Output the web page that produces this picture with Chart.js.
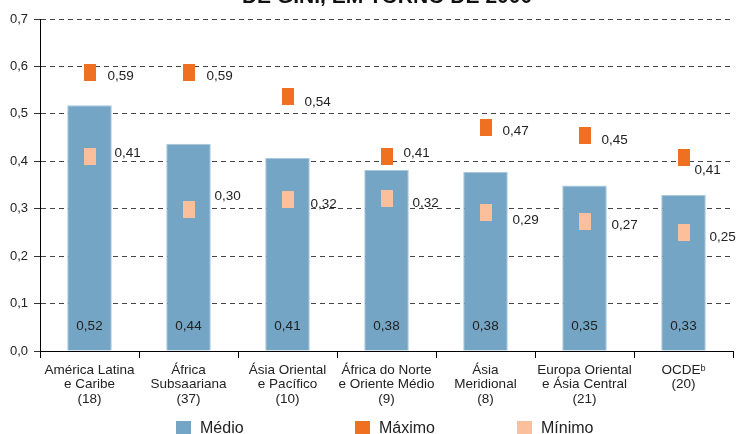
<!DOCTYPE html>
<html>
<head>
<meta charset="utf-8">
<script src="https://cdn.jsdelivr.net/npm/chart.js@4/dist/chart.umd.min.js"></script>
<style>
  html, body { margin: 0; padding: 0; background: #fff; overflow: hidden; width: 738px; height: 434px; }
  #wrap { position: absolute; left: 0; top: 0; width: 738px; height: 434px; }
</style>
</head>
<body>
<div id="wrap"><canvas id="c" width="738" height="434"></canvas></div>
<script>
// ---- data ----
const categories = [
  ["América Latina", "e Caribe", "(18)"],
  ["África", "Subsaariana", "(37)"],
  ["Ásia Oriental", "e Pacífico", "(10)"],
  ["África do Norte", "e Oriente Médio", "(9)"],
  ["Ásia", "Meridional", "(8)"],
  ["Europa Oriental", "e Ásia Central", "(21)"],
  ["OCDEᵇ", "(20)"]
];
const medio  = [0.518, 0.437, 0.407, 0.382, 0.378, 0.349, 0.329];
const maximo = [0.587, 0.587, 0.536, 0.410, 0.472, 0.454, 0.409];
const minimo = [0.411, 0.298, 0.320, 0.322, 0.293, 0.272, 0.249];
const yTicks = [0, 0.1, 0.2, 0.3, 0.4, 0.5, 0.6, 0.7];
const seriesNames = ["Médio", "Máximo", "Mínimo"];
const titleText = "DE GINI, EM TORNO DE 2000";

// ---- styles / layout ----
const FONT = "'Liberation Sans', Arial, sans-serif";
const TXT = "#222";
const C_MED = "#74a5c4", C_MAX = "#f07022", C_MIN = "#fbbf9c";
// label nudges (pixels, relative to marker centre)
const maxDx = [18, 18, 17, 17, 17, 17, 11];
const maxDy = [4, 4, 5, -3, 4, 5, 13];
const minDx = [25, 26, 23, 26, 27, 27, 26];
const minDy = [-3, -13, 5, 5, 8, 3, 4];
const legendBoxX = [176, 355, 517];
const fmt = (v, d) => v.toFixed(d).replace(".", ",");

function markerImg(color) {
  const cv = document.createElement("canvas");
  cv.width = 12; cv.height = 17;
  const g = cv.getContext("2d");
  g.fillStyle = color; g.fillRect(0, 0, 12, 17);
  return cv;
}

const titlePlugin = {
  id: "cutTitle",
  afterDraw(chart) {
    const ctx = chart.ctx;
    ctx.save();
    ctx.font = "bold 21px " + FONT;
    ctx.fillStyle = "#111";
    ctx.textAlign = "center";
    ctx.textBaseline = "alphabetic";
    ctx.fillText(titleText, 387, 3);
    ctx.restore();
  }
};

const legendPlugin = {
  id: "fixedLegend",
  afterDraw(chart) {
    const ctx = chart.ctx;
    ctx.save();
    ctx.font = "16px " + FONT;
    ctx.textAlign = "left";
    ctx.textBaseline = "middle";
    chart.data.datasets.forEach((ds, i) => {
      const x = legendBoxX[i];
      ctx.fillStyle = ds.backgroundColor;
      ctx.fillRect(x, 421, 15, 15);
      ctx.fillStyle = TXT;
      ctx.fillText(ds.label, x + 24, 429);
    });
    ctx.restore();
  }
};

const labelPlugin = {
  id: "valueLabels",
  afterDatasetsDraw(chart) {
    const ctx = chart.ctx;
    ctx.save();
    ctx.font = "13.5px " + FONT;
    ctx.fillStyle = TXT;
    ctx.textBaseline = "middle";
    const bottom = chart.chartArea.bottom;
    chart.getDatasetMeta(0).data.forEach((el, i) => {
      ctx.textAlign = "center";
      ctx.fillText(fmt(medio[i], 2), el.x, bottom - 25);
    });
    chart.getDatasetMeta(1).data.forEach((el, i) => {
      ctx.textAlign = "left";
      ctx.fillText(fmt(maximo[i], 2), el.x + maxDx[i], el.y + maxDy[i]);
    });
    chart.getDatasetMeta(2).data.forEach((el, i) => {
      ctx.textAlign = "left";
      ctx.fillText(fmt(minimo[i], 2), el.x + minDx[i], el.y + minDy[i]);
    });
    ctx.restore();
  }
};

new Chart(document.getElementById("c"), {
  data: {
    labels: categories,
    datasets: [
      { type: "bar", label: seriesNames[0], data: medio, backgroundColor: C_MED,
        borderColor: "#a9c8dc", borderWidth: 1, barPercentage: 0.45, categoryPercentage: 1, order: 1 },
      { type: "line", label: seriesNames[1], data: maximo, showLine: false, backgroundColor: C_MAX,
        borderColor: C_MAX, borderWidth: 0, pointStyle: markerImg(C_MAX), order: 0 },
      { type: "line", label: seriesNames[2], data: minimo, showLine: false, backgroundColor: C_MIN,
        borderColor: C_MIN, borderWidth: 0, pointStyle: markerImg(C_MIN), order: 0 }
    ]
  },
  options: {
    responsive: false,
    animation: false,
    layout: { padding: { top: 19, right: 5, left: 0, bottom: 24 } },
    plugins: {
      tooltip: { enabled: false },
      title: { display: false },
      legend: { display: false }
    },
    scales: {
      x: {
        offset: true,
        grid: { drawOnChartArea: false, drawTicks: true, tickLength: 7, tickColor: "#000", offset: true },
        border: { display: true, color: "#000", width: 1 },
        ticks: { color: TXT, font: { family: FONT, size: 13.5, lineHeight: "14.5px" }, padding: 5, maxRotation: 0, autoSkip: false },
        afterFit(s) { s.height = 59; }
      },
      y: {
        min: 0, max: 0.7,
        afterBuildTicks(s) { s.ticks = yTicks.map(v => ({ value: v })); },
        grid: { color: "#444", lineWidth: 1, tickLength: 6, tickColor: "#333", tickBorderDash: [] },
        border: { display: true, color: "#000", width: 1, dash: [5, 4] },
        ticks: { color: TXT, font: { family: FONT, size: 13 }, padding: 6, callback: v => fmt(v, 1) },
        afterFit(s) { s.width = 40; }
      }
    }
  },
  plugins: [labelPlugin, titlePlugin, legendPlugin]
});
</script>
</body>
</html>
